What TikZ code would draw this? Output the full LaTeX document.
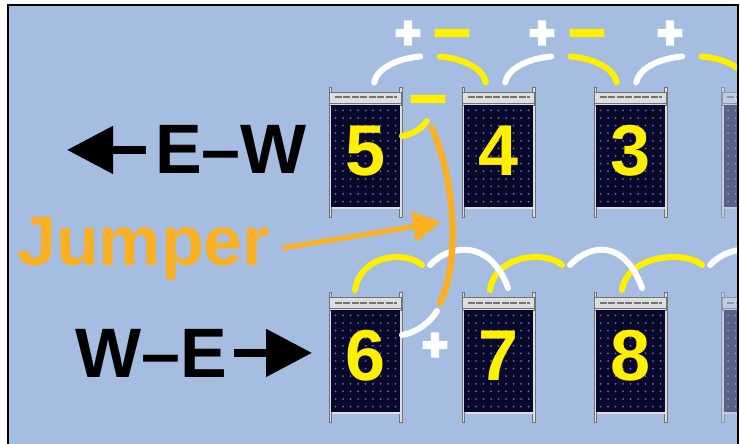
\documentclass[tikz,border=0pt]{standalone}
\usepackage{fontspec}
\setmainfont{Liberation Sans}
\newfontface\signfont{Liberation Sans Bold}[FakeBold=9]
\usetikzlibrary{positioning,arrows.meta}

\definecolor{wall}{RGB}{164,189,224}
\definecolor{cellface}{RGB}{8,8,44}
\definecolor{celldot}{RGB}{105,110,145}
\definecolor{rail}{RGB}{222,222,222}
\definecolor{railshade}{RGB}{115,115,115}
\definecolor{negyellow}{RGB}{255,240,0}
\definecolor{jumperorange}{RGB}{249,176,34}

\tikzset{
  face/.style={fill=cellface, minimum width=69pt, minimum height=102pt, inner sep=0pt},
  digit/.style={text=negyellow, font=\bfseries\fontsize{72}{72}\selectfont, inner sep=0pt},
  dirlabel/.style={font=\bfseries\fontsize{70}{70}\selectfont, inner sep=0pt},
  dirarrow/.style={line width=8pt, -{Triangle[length=46pt,width=46pt]}},
  poswire/.style={white, line width=6pt, line cap=round},
  negwire/.style={negyellow, line width=6pt, line cap=round},
  jumperwire/.style={jumperorange, line width=6.5pt, line cap=round},
  pointer/.style={jumperorange, line width=5pt, -{Triangle[length=28pt,width=30pt]}},
  sign/.style={font=\signfont\fontsize{42}{42}\selectfont, inner sep=0pt, anchor=base, yshift=-14pt},
  pics/cubesat/.style={code={
    % rails down both sides
    \filldraw[rail, draw=railshade, line width=.4pt] (-36.5,65) rectangle (-34,-65);
    \filldraw[rail, draw=railshade, line width=.4pt] (34,65) rectangle (36.5,-65);
    % top plate
    \filldraw[rail, draw=railshade, line width=.4pt] (-36,60) rectangle (36,47);
    \draw[railshade, line width=2pt, dash pattern=on 7pt off 1.5pt] (-31,54.5) -- (31,54.5);
    \draw[railshade, line width=.5pt] (-36,49) -- (36,49);
    % solar cells
    \node[face] (-face) at (0,-4) {};
    \foreach \i in {-4,...,4}
      \foreach \j in {-6,...,6}
        \fill[celldot] (\i*7.5,-4+\j*7.6) circle (1);
    \fill[rail] (-34,-55) rectangle (34,-57);
    \node[digit] (-num) at (0,1) {#1};
  }},
}

\begin{document}
\begin{tikzpicture}[x=1pt,y=1pt]
\useasboundingbox (0,0) rectangle (740,-444);
\fill[white] (0,0) rectangle (740,-444);

\begin{scope}
\clip (8,-5) rectangle (738,-444);
\fill[wall] (8,-5) rectangle (738,-444);

% upper string, east to west
\pic (p5) at (365.5,-152) {cubesat=5};
\pic (p4) at (498.5,-152) {cubesat=4};
\pic (p3) at (630.5,-152) {cubesat=3};
\pic (p2) at (758,-152) {cubesat=};
% lower string, west to east
\pic (p6) at (365.5,-357) {cubesat=6};
\pic (p7) at (498.5,-357) {cubesat=7};
\pic (p8) at (630.5,-357) {cubesat=8};
\pic (p9) at (758,-357) {cubesat=};
\fill[wall, opacity=.5] (719,-80) rectangle (740,-444);

% links over the upper row
\foreach \cx [count=\k] in {430,561,692} {
  \coordinate (top\k) at (\cx,-85);
  \draw[poswire] (top\k) ++(175:56 and 29) arc[start angle=175, end angle=100, x radius=56, y radius=29];
  \draw[negwire] (top\k) ++(80:56 and 29) arc[start angle=80, end angle=5, x radius=56, y radius=29];
}
\foreach \x [count=\k] in {408,542,670}
  \node[sign, text=white] (pos\k) at (\x,-33) {+};
\foreach \x [count=\k] in {452,587}
  \node[sign, text=negyellow] (neg\k) at (\x,-33) {\scalebox{1.4}[1]{−}};
\node[sign, text=negyellow] (neg5) at (428,-99) {\scalebox{1.4}[1]{−}};
\draw[negwire] (402,-136) .. controls (414,-134) and (422,-128) .. (427,-121);

% links over the lower row
\foreach \a/\b in {355/422, 490/562, 622/702}
  \draw[negwire] (\a,-290) .. controls (\a+5,-255) and (\b-17,-250) .. (\b,-265);
\foreach \a/\b in {430/508, 570/642, 710/788}
  \draw[poswire] (\a,-265) .. controls (\a+21,-243) and (\b-17,-240) .. (\b,-288);
\draw[poswire] (402,-335) .. controls (418,-332) and (430,-322) .. (437,-311);
\node[sign, text=white] (pos6) at (435,-345) {+};

% jumper between the strings
\coordinate (jtop) at (432,-128);
\coordinate (jbot) at (440,-303);
\draw[jumperwire] (jtop) .. controls (458,-188) and (458,-268) .. (jbot);

% labels
\node[dirlabel, anchor=base west] (ew) at (155,-174) {E–W};
\draw[dirarrow] ([xshift=-9pt]ew.west) -- ++(-79,0);
\node[dirlabel, anchor=base west] (we) at (75,-377) {W–E};
\draw[dirarrow] ([xshift=7pt]we.east) -- ++(78,0);
\node[dirlabel, text=jumperorange, anchor=base west] (jumper) at (17,-265) {Jumper};
\coordinate (jtip) at (441,-222);
\draw[pointer] ([xshift=12pt]jumper.east) -- (jtip);
\end{scope}

\draw[line width=2pt] (8,-444) -- (8,-5) -- (738,-5) -- (738,-444);
\end{tikzpicture}
\end{document}
